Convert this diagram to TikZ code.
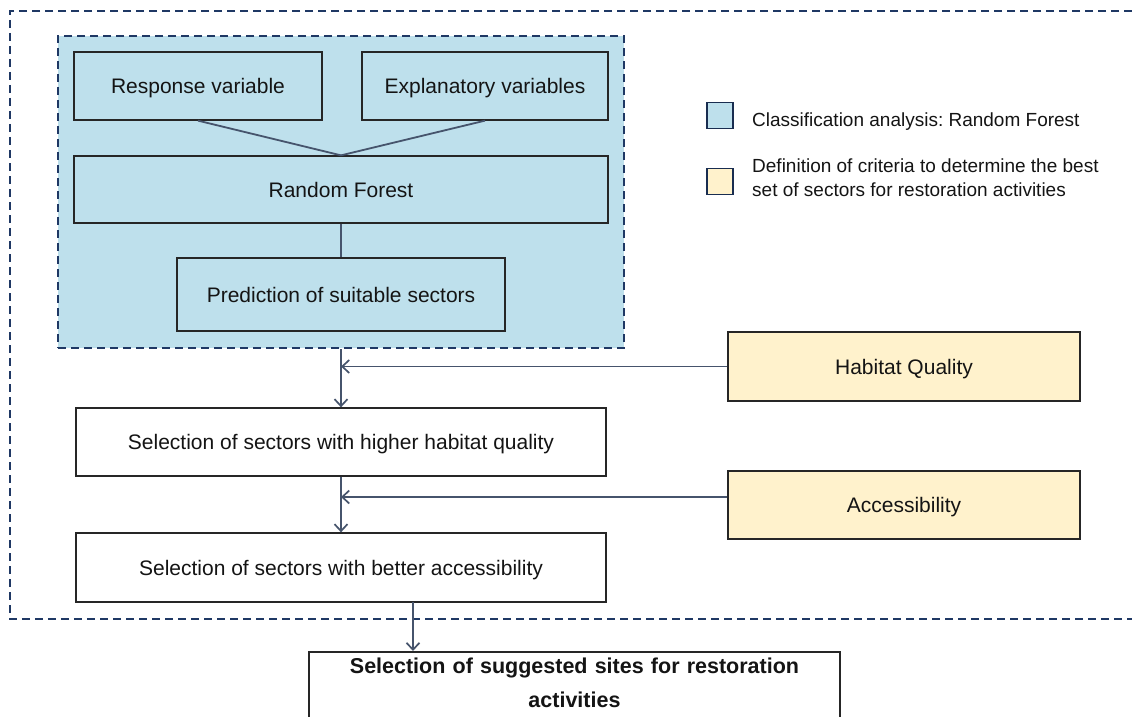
\documentclass[tikz,border=0pt]{standalone}
\usepackage{fontspec}
\setmainfont{Liberation Sans}
\usetikzlibrary{arrows.meta}
\frenchspacing
\definecolor{clfblue}{RGB}{190,224,236}
\definecolor{crityellow}{RGB}{255,242,204}
\definecolor{navy}{RGB}{31,56,100}
\definecolor{conn}{RGB}{70,84,108}
\definecolor{boxline}{RGB}{38,38,38}
\definecolor{txt}{RGB}{20,20,20}
\begin{document}
\begin{tikzpicture}[x=1pt,y=-1pt,
  every node/.style={font=\fontsize{21}{25}\selectfont, text=txt},
  box/.style={draw=boxline, line width=1.3pt, inner sep=0pt, text height=15pt, text depth=0pt},
  bluebox/.style={box, fill=clfblue},
  yellowbox/.style={box, fill=crityellow},
  whitebox/.style={box, fill=white},
  legsq/.style={draw=navy!80!black, line width=1.3pt, minimum size=26pt, inner sep=0pt},
  legtext/.style={align=left, inner sep=0pt, font=\fontsize{19}{23.5}\selectfont},
  connector/.style={draw=conn, line width=1.8pt},
  arrowline/.style={connector, -{Straight Barb[length=7pt,width=13pt,line width=1.7pt]}},
  groupline/.style={draw=navy, line width=2pt, dash pattern=on 8pt off 5pt},
]
\useasboundingbox (0,0) rectangle (1132,717);
\clip (0,0) rectangle (1132,717);

% outer group frame
\draw[groupline] (1132,11) -- (10,11) -- (10,619) -- (1132,619);

% classification container
\node[groupline, fill=clfblue, minimum width=566pt, minimum height=312pt, inner sep=0pt] (clf) at (341,192) {};

\node[bluebox, minimum width=248pt, minimum height=68pt] (resp) at (198,86) {Response variable};
\node[bluebox, minimum width=246pt, minimum height=68pt] (expl) at (485,86) {Explanatory variables};
\node[bluebox, minimum width=534pt, minimum height=67pt] (rf) at (341,189.5) {Random Forest};
\node[bluebox, minimum width=328pt, minimum height=73pt] (pred) at (341,294.5) {Prediction of suitable sectors};

\draw[connector] (resp.south) -- (rf.north);
\draw[connector] (expl.south) -- (rf.north);
\draw[connector] (rf.south) -- (pred.north);

% criteria boxes
\node[yellowbox, minimum width=352pt, minimum height=69pt] (hab) at (904,366.5) {Habitat Quality};
\node[yellowbox, minimum width=352pt, minimum height=68pt] (acc) at (904,505) {Accessibility};

% selection boxes
\node[whitebox, minimum width=530pt, minimum height=68pt] (sel1) at (341,442) {Selection of sectors with higher habitat quality};
\node[whitebox, minimum width=530pt, minimum height=69pt] (sel2) at (341,567.5) {Selection of sectors with better accessibility};

\node[draw=boxline, fill=white, line width=1.8pt, anchor=north, minimum width=531pt, text width=500pt, align=center, inner xsep=0pt, inner ysep=6pt,
  font=\bfseries\fontsize{21.5}{34}\selectfont] (final) at (574.5,651) {Selection of suggested sites for restoration\\activities\rule[-20pt]{0pt}{20pt}};

% arrows
\draw[arrowline] (clf.south) -- (sel1.north);
\draw[arrowline] (hab.west) -- (hab.west -| clf.south);
\coordinate (accin) at ([yshift=8pt]acc.west);
\draw[arrowline] (accin) -- (accin -| sel1.south);
\draw[arrowline] (sel1.south) -- (sel2.north);
\coordinate (out) at (413,602);
\draw[arrowline] (out) -- (out |- final.north);

% legend
\node[legsq, fill=clfblue] (lega) at (720,115.5) {};
\node[legtext, anchor=west, text height=13.6pt, text depth=0pt] (legatext) at (752,120) {Classification analysis: Random Forest};
\node[legsq, fill=crityellow] (legb) at (720,181.5) {};
\node[legtext, anchor=north west] (legbtext) at (752,159) {Definition of criteria to determine the best\\set of sectors for restoration activities};
\end{tikzpicture}
\end{document}
